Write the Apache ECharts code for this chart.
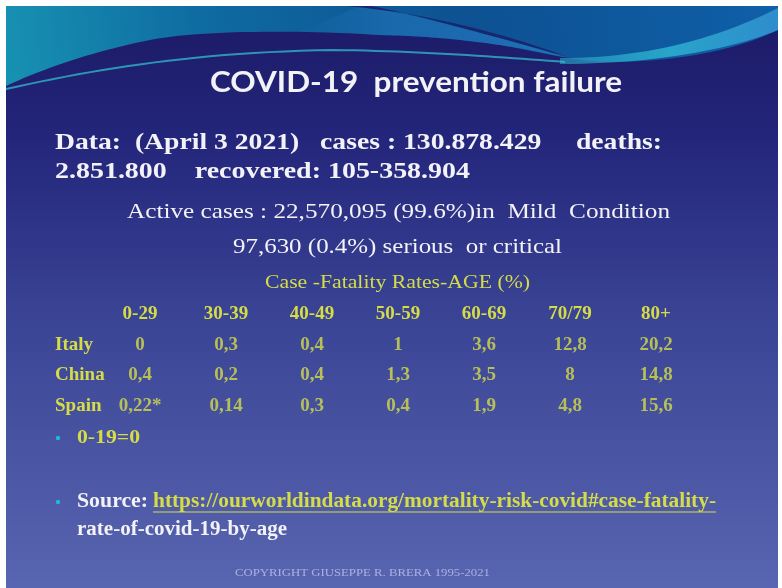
<!DOCTYPE html>
<html>
<head>
<meta charset="utf-8">
<script src="https://cdn.jsdelivr.net/npm/echarts@6/dist/echarts.min.js"></script>
<style>
html,body{margin:0;padding:0;background:#fff;}
#chart{width:782px;height:588px;}
</style>
</head>
<body>
<div id="chart"></div>
<script>
// ---- data ----
var ageGroups = ['0-29', '30-39', '40-49', '50-59', '60-69', '70/79', '80+'];
var countries = ['Italy', 'China', 'Spain'];
var italy = [0, 0.3, 0.4, 1, 3.6, 12.8, 20.2];
var china = [0.4, 0.2, 0.4, 1.3, 3.5, 8, 14.8];
var spain = [0.22, 0.14, 0.3, 0.4, 1.9, 4.8, 15.6];
var footnotes = { 'Spain|0-29': '*' };

var titleText = 'COVID-19  prevention failure';
var line1 = 'Data:  (April 3 2021)   cases : 130.878.429     deaths:';
var line2 = '2.851.800    recovered: 105-358.904';
var line3 = 'Active cases : 22,570,095 (99.6%)in  Mild  Condition';
var line4 = '97,630 (0.4%) serious  or critical';
var tableTitle = 'Case -Fatality Rates-AGE (%)';
var noteText = '0-19=0';
var sourceLabel = 'Source:';
var sourceUrl = 'https://ourworldindata.org/mortality-risk-covid#case-fatality-';
var sourceUrl2 = 'rate-of-covid-19-by-age';
var copyright = 'COPYRIGHT GIUSEPPE R. BRERA 1995-2021';

// ---- build ----
var YEL = '#d5dc46';
var WHITE = '#f2f2f7';
var serif = '"Liberation Serif", "DejaVu Serif", serif';
var seriesValues = { Italy: italy, China: china, Spain: spain };

function fmt(v) { return String(v).replace('.', ','); }

var series = countries.map(function (c) {
  return {
    type: 'scatter',
    name: c,
    z: 10,
    symbolSize: 0,
    silent: true,
    data: seriesValues[c].map(function (v, i) {
      return { value: [ageGroups[i], c], raw: v, note: footnotes[c + '|' + ageGroups[i]] || '' };
    }),
    label: {
      show: true,
      position: 'inside',
      color: YEL,
      fontFamily: serif,
      fontWeight: 'bold',
      fontSize: 19,
      formatter: function (p) { return fmt(p.data.raw) + p.data.note; }
    }
  };
});

// sample simple absolute path (M, L, C, Z) into polygon points
function samplePath(d) {
  var tok = d.match(/[MLCZ]|-?\d*\.?\d+/g);
  var pts = [], i = 0, cmd = null, cx = 0, cy = 0;
  while (i < tok.length) {
    if (/[MLCZ]/.test(tok[i])) { cmd = tok[i++]; if (cmd === 'Z') continue; }
    if (cmd === 'M' || cmd === 'L') {
      cx = +tok[i]; cy = +tok[i + 1]; i += 2; pts.push([cx, cy]);
    } else if (cmd === 'C') {
      var x1 = +tok[i], y1 = +tok[i + 1], x2 = +tok[i + 2], y2 = +tok[i + 3], x3 = +tok[i + 4], y3 = +tok[i + 5];
      i += 6;
      for (var s = 1; s <= 24; s++) {
        var t = s / 24, u = 1 - t;
        pts.push([u * u * u * cx + 3 * u * u * t * x1 + 3 * u * t * t * x2 + t * t * t * x3,
                  u * u * u * cy + 3 * u * u * t * y1 + 3 * u * t * t * y2 + t * t * t * y3]);
      }
      cx = x3; cy = y3;
    } else { i++; }
  }
  return pts;
}

var meas = document.createElement('canvas').getContext('2d');
function textW(font, t) { meas.font = font; return meas.measureText(t).width; }

// text stretched horizontally to span x1..x2
function ftxt(t, x1, x2, y, font, fill, align) {
  var sx = (x2 - x1) / textW(font, t);
  var px = align === 'center' ? (x1 + x2) / 2 : x1;
  return { type: 'text', z: 5, silent: true, x: px, y: y, scaleX: sx,
    style: { text: t, x: 0, y: 0, font: font, fill: fill, align: align || 'left', verticalAlign: 'middle' } };
}

var graphics = [
  { type: 'rect', z: 0, silent: true, shape: { x: 6, y: 6, width: 772, height: 582 },
    style: { fill: new echarts.graphic.LinearGradient(0, 0, 0, 1, [
      { offset: 0, color: '#1c1a66' }, { offset: 0.22, color: '#23257a' },
      { offset: 0.55, color: '#3b4596' }, { offset: 1, color: '#5865b0' }]) } },
  // blue top area
  { type: 'polygon', z: 1, silent: true,
    shape: { points: samplePath('M6,6 L778,6 L778,30 C740,48 690,60 620,62 C580,63 540,52 500,45 C450,38 420,36 380,35 C300,30 200,30 150,40 C90,52 40,70 6,86 Z') },
    style: { fill: new echarts.graphic.LinearGradient(0, 1, 1, 0, [
      { offset: 0, color: '#1792b2' }, { offset: 0.25, color: '#0f6ca2' },
      { offset: 0.6, color: '#0d5192' }, { offset: 1, color: '#0f5fa8' }]) } },
  // lighter band under the crescent
  { type: 'polygon', z: 2, silent: true,
    shape: { points: samplePath('M300,32 C320,24 340,14 360,6 L372,6 C440,22 510,40 568,58 C540,52 520,48 500,45 C450,38 420,36 380,35 C350,33 320,32 300,32 Z') },
    style: { fill: new echarts.graphic.LinearGradient(0, 0, 1, 0, [
      { offset: 0, color: 'rgba(40,125,200,0)' }, { offset: 0.35, color: 'rgba(40,125,200,0.45)' },
      { offset: 1, color: 'rgba(45,135,205,0.6)' }]) } },
  // dark crescent
  { type: 'polygon', z: 3, silent: true,
    shape: { points: samplePath('M345,6 C420,12 500,32 568,57 C500,38 430,18 372,6 Z') },
    style: { fill: '#1a2670' } },
  // bright band on the right
  { type: 'polygon', z: 3, silent: true,
    shape: { points: samplePath('M560,58 C640,58 710,42 778,8 L778,30 C730,50 650,64 560,64 Z') },
    style: { fill: new echarts.graphic.LinearGradient(0, 0, 1, 0, [
      { offset: 0, color: 'rgba(40,170,200,0.6)' }, { offset: 0.5, color: 'rgba(50,190,215,0.75)' },
      { offset: 1, color: 'rgba(60,160,220,0.7)' }]) } },
  // teal streak
  { type: 'polyline', z: 3, silent: true,
    shape: { points: samplePath('M6,89 C100,68 200,52 333,50 C420,51 500,57 565,62') },
    style: { stroke: 'rgba(50,190,205,0.75)', lineWidth: 2 } },

  ftxt(titleText, 210, 622, 83, 'bold 29px Lato, "Noto Sans", sans-serif', WHITE, 'center'),
  ftxt(line1, 55, 662, 143, 'bold 24px ' + serif, WHITE),
  ftxt(line2, 55, 470, 172, 'bold 24px ' + serif, WHITE),
  ftxt(line3, 127, 670, 212, '22px ' + serif, WHITE),
  ftxt(line4, 233, 562, 247, '22px ' + serif, WHITE),
  ftxt(tableTitle, 265, 530, 283, '19px ' + serif, YEL),

  { type: 'circle', z: 5, silent: true, shape: { cx: 58, cy: 438, r: 2.2 }, style: { fill: '#22b8d4' } },
  ftxt(noteText, 77, 140, 438, 'bold 19px ' + serif, YEL),

  { type: 'circle', z: 5, silent: true, shape: { cx: 58, cy: 502, r: 2.2 }, style: { fill: '#22b8d4' } },
  ftxt(sourceLabel, 77, 148, 502, 'bold 20px ' + serif, WHITE),
  ftxt(sourceUrl, 153, 716, 502, 'bold 20px ' + serif, YEL),
  { type: 'line', z: 5, silent: true,
    shape: { x1: 153, y1: 512, x2: 716, y2: 512 },
    style: { stroke: YEL, lineWidth: 1.2 } },
  ftxt(sourceUrl2, 77, 287, 530, 'bold 20px ' + serif, WHITE),
  ftxt(copyright, 235, 490, 573, '11px ' + serif, '#aab2e2')
];

var chart = echarts.init(document.getElementById('chart'), null, { renderer: 'canvas' });
chart.setOption({
  animation: false,
  backgroundColor: '#ffffff',
  graphic: { elements: graphics },
  grid: { left: 97, right: 83, top: 330, height: 91 },
  xAxis: {
    type: 'category', position: 'top', data: ageGroups, z: 10,
    axisLine: { show: false }, axisTick: { show: false }, splitLine: { show: false },
    axisLabel: { color: YEL, fontFamily: serif, fontWeight: 'bold', fontSize: 19, margin: 6, interval: 0 }
  },
  yAxis: {
    type: 'category', data: countries, inverse: true, z: 10,
    axisLine: { show: false }, axisTick: { show: false }, splitLine: { show: false },
    axisLabel: { color: YEL, fontFamily: serif, fontWeight: 'bold', fontSize: 19, margin: 42, align: 'left' }
  },
  series: series
});
</script>
</body>
</html>
